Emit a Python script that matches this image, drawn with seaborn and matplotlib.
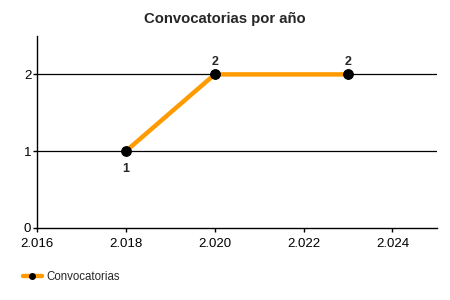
import matplotlib
matplotlib.use("Agg")
import matplotlib.pyplot as plt
import seaborn as sns
import pandas as pd
from matplotlib.ticker import FuncFormatter, MultipleLocator
from matplotlib.lines import Line2D

years = [2018, 2020, 2023]
counts = [1, 2, 2]
series_name = "Convocatorias"
title = "Convocatorias por año"

sns.set_style("white")
plt.rcParams['font.family'] = ['Liberation Sans', 'DejaVu Sans']

df = pd.DataFrame({"year": years, "count": counts})

fig = plt.figure(figsize=(4.5, 3), dpi=100)
ax = fig.add_axes([0.082, 0.24, 0.889, 0.64])

color = "#FF9A00"
sns.lineplot(data=df, x="year", y="count", ax=ax, color=color, linewidth=3.2,
             marker="o", markersize=7, markerfacecolor="black", markeredgecolor="black",
             zorder=3)

ax.set_xlim(2016, 2025)
ax.set_ylim(0, 2.5)
ax.xaxis.set_major_locator(MultipleLocator(2))
ax.xaxis.set_major_formatter(FuncFormatter(lambda v, p: f"{v/1000:.3f}"))
ax.set_yticks([0, 1, 2])
ax.yaxis.set_major_formatter(FuncFormatter(lambda v, p: f"{int(v)}"))
ax.set_xlabel("")
ax.set_ylabel("")

for y in [1, 2]:
    ax.axhline(y, color="black", linewidth=0.9, zorder=1)

for s in ["top", "right"]:
    ax.spines[s].set_visible(False)
for s in ["left", "bottom"]:
    ax.spines[s].set_color("black")
    ax.spines[s].set_linewidth(1)

ax.tick_params(axis="both", which="both", length=3, width=1, color="black",
               labelsize=9.5, labelcolor="black", direction="out",
               bottom=True, left=True)
ax.tick_params(axis="x", pad=4)
ax.tick_params(axis="y", pad=1)

for i, (x, y) in enumerate(zip(years, counts)):
    off = -13 if i == 0 else 9
    ax.annotate(str(y), (x, y), xytext=(0, off), textcoords="offset points",
                ha="center", va="center", fontsize=9, fontweight="bold")

fig.suptitle(title, x=0.5, y=0.96, fontsize=10.7, fontweight="bold")

handle = Line2D([], [], color=color, linewidth=3.2, marker="o", markersize=4,
                markerfacecolor="black", markeredgecolor="black")
fig.legend([handle], [series_name], loc="center left", bbox_to_anchor=(0.05, 0.075),
           frameon=False, fontsize=8.3, handlelength=1.7, handletextpad=0.4,
           borderpad=0, borderaxespad=0)

fig.savefig("out.png", dpi=100)
